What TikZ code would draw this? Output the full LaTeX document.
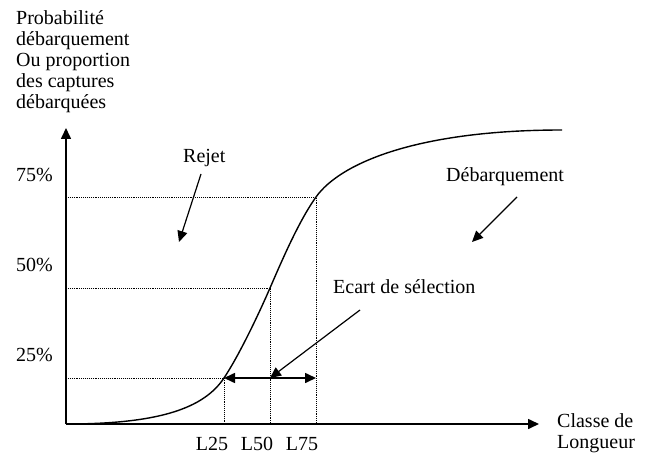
\documentclass[tikz,border=0pt]{standalone}
\usepackage{fontspec}
\setmainfont{Liberation Serif}
\usetikzlibrary{arrows.meta}

\begin{document}
\begin{tikzpicture}[x=1pt,y=-1pt,
    lbl/.style={inner sep=0pt,font=\fontsize{20}{21.2}\selectfont},
    tip/.style={-{Triangle[length=11pt,width=10pt]}},
    guide/.style={densely dotted,line width=0.9pt}]
                \useasboundingbox (0,0) rectangle (647,457);
                \coordinate (O) at (66,424);
                \coordinate (Ytop) at (66,128);
                \coordinate (Xend) at (539,424);
                \coordinate (P25) at (224,378);
                \coordinate (P50) at (270,288);
                \coordinate (P75) at (316,197);
                \coordinate (Pend) at (562,130);
                \coordinate (Y25) at (66,378);
                \coordinate (Y50) at (66,288);
                \coordinate (Y75) at (66,197);
                \coordinate (X25) at (224,424);
                \coordinate (X50) at (270,424);
                \coordinate (X75) at (316,424);
                \coordinate (M50) at (270,378);
                % axes
                \draw[tip,line width=1.6pt] (O)--(Xend);
                \draw[tip,line width=1.6pt] (O)--(Ytop);
                % dotted guides
                \draw[guide] (Y25)--(P25)--(X25);
                \draw[guide] (Y50)--(P50)--(X50);
                \draw[guide] (Y75)--(P75)--(X75);
                % selection curve
                \draw[line width=1.4pt] (O) .. controls (160,424) and (204,408) .. (P25)
                    .. controls (238,357) and (257,318) .. (P50)
                    .. controls (283,258) and (299,221) .. (P75)
                    .. controls (341,162) and (420,130) .. (Pend);
                % labels
                \node[lbl,anchor=north west,align=left] (ylab) at (16,10)
                    {Probabilit\'e\\d\'ebarquement\\Ou proportion\\des captures\\d\'ebarqu\'ees};
                \node[lbl,anchor=base west] (t75) at (16,181) {75\%};
                \node[lbl,anchor=base west] (t50) at (16,271) {50\%};
                \node[lbl,anchor=base west] (t25) at (16,361) {25\%};
                \node[lbl,anchor=base] (l25) at (212,450) {L25};
                \node[lbl,anchor=base] (l50) at (257,450) {L50};
                \node[lbl,anchor=base] (l75) at (302,450) {L75};
                \node[lbl,anchor=north west,align=left] (xlab) at (557,413) {Classe de\\Longueur};
                \node[lbl,anchor=base west] (rejet) at (183,163) {Rejet};
                \node[lbl,anchor=base west] (deb) at (446,182) {D\'ebarquement};
                \node[lbl,anchor=base west] (ecart) at (333,293) {Ecart de s\'election};
                % pointers
                \coordinate (Rs) at (201,174);
                \coordinate (Re) at (179,242);
                \coordinate (Ds) at (517,197);
                \coordinate (De) at (472,242);
                \coordinate (Es) at (360,310);
                \draw[tip,line width=1.2pt] (Rs)--(Re);
                \draw[tip,line width=1.2pt] (Ds)--(De);
                \draw[tip,line width=1.2pt] (Es)--(M50);
                \draw[{Triangle[length=11pt,width=10pt]}-{Triangle[length=11pt,width=10pt]},line width=1.6pt] (P25)--(X75|-P25);
            \end{tikzpicture}
\end{document}
